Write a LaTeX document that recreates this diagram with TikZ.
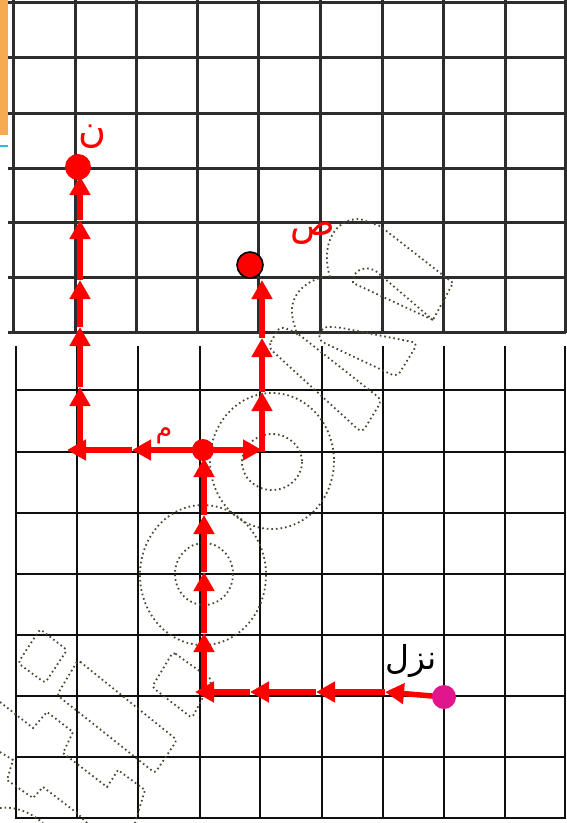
\documentclass[tikz,border=0pt]{standalone}
\usepackage{fontspec}
\TeXXeTstate=1
\newfontfamily\arabicfont[Script=Arabic]{DejaVu Sans}
\usetikzlibrary{arrows.meta}
\definecolor{routered}{RGB}{255,0,0}
\definecolor{startpink}{RGB}{226,22,140}
\definecolor{wmcol}{RGB}{75,70,50}
\definecolor{topgrid}{RGB}{45,45,45}
\definecolor{botgrid}{RGB}{15,15,15}
\definecolor{stripor}{RGB}{246,170,82}
\definecolor{stripbl}{RGB}{58,178,226}
\pgfdeclarelayer{background}
\pgfsetlayers{background,main}
\begin{document}
\begin{tikzpicture}[x=1pt,y=-1pt,
  route/.style={draw=routered,line width=5.5pt},
  tipped/.style={route,-{Triangle[length=19pt,width=20pt]}},
  dotnode/.style={circle,fill=routered,inner sep=0pt,minimum size=#1},
  wm/.style={draw=wmcol,line width=1.8pt,dash pattern=on 1.6pt off 3pt},
  tg/.style={draw=topgrid,line width=3pt},
  bg/.style={draw=botgrid,line width=2.4pt},
  lbl/.style={inner sep=0pt,font=\arabicfont\fontsize{#1}{#1}\selectfont}]
\useasboundingbox (0,0) rectangle (566,823);

% dots
\node[dotnode=24pt,fill=startpink] (S) at (444,697) {};
\node[dotnode=22pt] (M) at (203,450) {};
\node[dotnode=26pt] (N) at (78,167) {};
\node[dotnode=26pt,draw=black,line width=1.6pt] (P) at (250,265) {};

% labels
\node[lbl=38pt,text=routered] (tN) at (92,137) {\beginR ن\endR};
\node[lbl=37pt,text=routered] (tP) at (313,233) {\beginR ص\endR};
\node[lbl=27pt,text=routered] (tM) at (164,436) {\beginR م\endR};
\node[lbl=33pt,text=black] (tS) at (411,661) {\beginR نزل\endR};

% corner and tip coordinates
\coordinate (b1) at (385,692);
\coordinate (b2) at (316,692);
\coordinate (b3) at (250,692);
\coordinate (b4) at (195,692);
\coordinate (B) at (204,692);
\coordinate (u1) at (204,633);
\coordinate (u2) at (204,572);
\coordinate (u3) at (204,515);
\coordinate (u4) at (204,458);
\coordinate (l1) at (132,450);
\coordinate (l2) at (67,450);
\coordinate (L) at (80,450);
\coordinate (v1) at (80,387);
\coordinate (v2) at (80,327);
\coordinate (v3) at (80,280);
\coordinate (v4) at (80,220);
\coordinate (v5) at (80,176);
\coordinate (r1) at (262,450);
\coordinate (R) at (262,452);
\coordinate (w1) at (262,392);
\coordinate (w2) at (262,338);
\coordinate (w3) at (262,280);

\begin{pgfonlayer}{background}
\fill[white] (0,0) rectangle (566,823);
\fill[stripor] (0,0) rectangle (8,135);
\draw[stripbl,line width=2pt] (0,146) -- (8,146);
% top grid
\foreach \x in {13,75,136,197,258,320,382,443,505,565} \draw[tg] (\x,0) -- (\x,333);
\foreach \y in {2,57,113,168,222,277,332} \draw[tg] (8,\y) -- (566,\y);
% bottom grid
\foreach \x in {16,77,138,200,260,322,383,444,505,565} \draw[bg] (\x,346) -- (\x,819);
\foreach \y in {390,452,513,574,635,696,757,818} \draw[bg] (15,\y) -- (566,\y);

% watermark
\draw[wm] (203,575) ellipse [x radius=63,y radius=70];
\draw[wm] (204,574) ellipse [x radius=29,y radius=31];
\draw[wm] (272,461) ellipse [x radius=62,y radius=68];
\draw[wm] (272,462) ellipse [x radius=30,y radius=28];
\draw[wm,rounded corners=6pt] (268,347) -- (280,326) -- (297,333) -- (382,400) -- (362,433) -- cycle;
\draw[wm,rounded corners=6pt] (318,340) -- (322,327) -- (337,327) -- (418,343) -- (397,377) -- cycle;
\draw[wm] (323,277) .. controls (300,283) and (288,300) .. (293,320) -- (297,335);
\draw[wm] (330,277) .. controls (320,245) and (335,218) .. (360,219) -- (380,226) -- (453,283) -- (433,320);
\draw[wm] (433,320) -- (377,272) .. controls (368,265) and (352,268) .. (353,283) -- (433,320);
\draw[wm,rounded corners=3pt] (40,629) -- (67,650) -- (45,683) -- (18,663) -- cycle;
\draw[wm,rounded corners=3pt] (78,660) -- (177,740) -- (155,773) -- (57,695) -- cycle;
\draw[wm,rounded corners=3pt] (173,652) -- (212,680) -- (192,718) -- (152,687) -- cycle;
\draw[wm] (0,702) -- (33,728) -- (47,712) -- (73,732) -- (63,753) -- (107,787) -- (118,770) -- (145,790) -- (135,823);
\draw[wm] (0,752) -- (13,760) -- (7,780) -- (33,798) -- (43,787) -- (77,813) -- (87,823);
\draw[wm] (0,808) .. controls (15,806) and (30,812) .. (43,823);

% route
\draw[tipped] (S.center) -- (b1);
\draw[tipped] (b1) -- (b2);
\draw[tipped] (b2) -- (b3);
\draw[tipped] (b3) -- (b4);
\draw[tipped] (B) -- (u1);
\draw[tipped] (u1) -- (u2);
\draw[tipped] (u2) -- (u3);
\draw[tipped] (u3) -- (u4);
\draw[tipped] (M.center) -- (l1);
\draw[tipped] (l1) -- (l2);
\draw[tipped] (L) -- (v1);
\draw[tipped] (v1) -- (v2);
\draw[tipped] (v2) -- (v3);
\draw[tipped] (v3) -- (v4);
\draw[tipped] (v4) -- (v5);
\draw[tipped] (M.center) -- (r1);
\draw[tipped] (R) -- (w1);
\draw[tipped] (w1) -- (w2);
\draw[tipped] (w2) -- (w3);
\end{pgfonlayer}
\end{tikzpicture}
\end{document}
